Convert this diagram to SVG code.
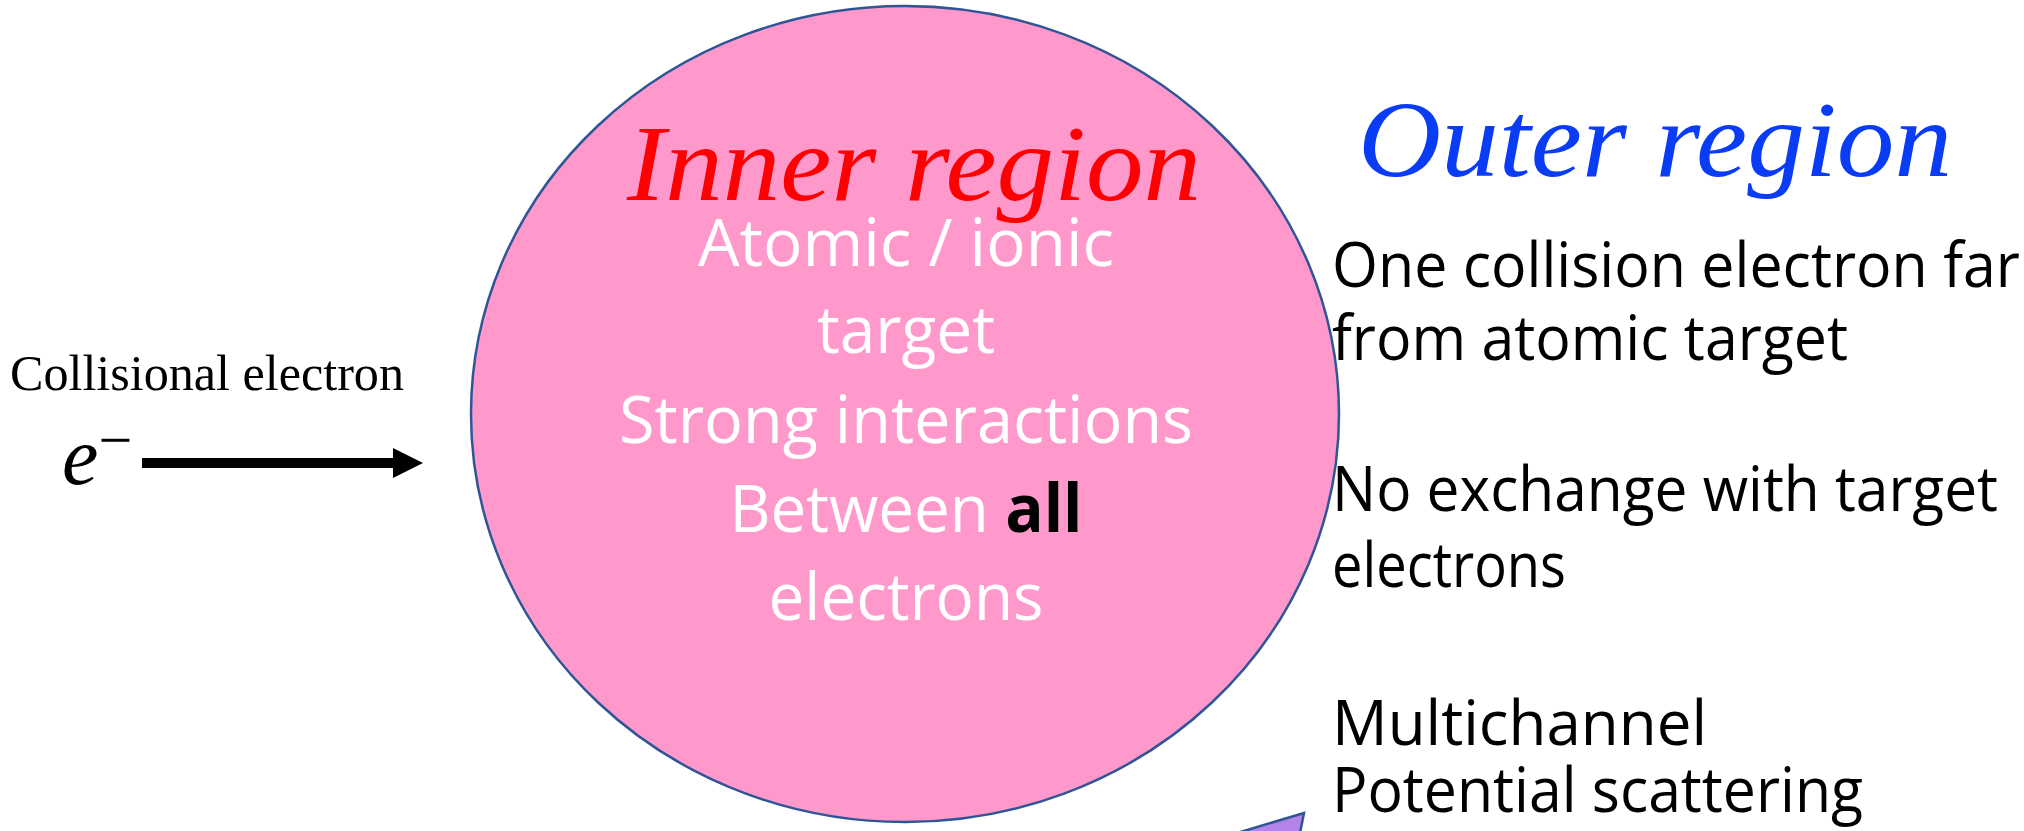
<svg xmlns="http://www.w3.org/2000/svg" width="2024" height="831" viewBox="0 0 2024 831">
<style>
.hand{font-family:"Liberation Serif",serif;font-style:italic;font-size:108px}
.inner{font-family:"Open Sans","Noto Sans",sans-serif;font-size:66px;fill:#ffffff;text-anchor:middle}
.outer{font-family:"Open Sans","Noto Sans",sans-serif;font-size:62px;fill:#000000}
.shape{stroke:#2F5597;stroke-width:2.5}
</style>
<rect width="2024" height="831" fill="#ffffff"/>
<g id="purple-shape">
<polygon class="shape" points="1304,813 1170,853 1296,853" fill="#B383E8"/>
</g>
<g id="inner-region">
<ellipse class="shape" cx="905" cy="414" rx="434" ry="408" fill="#FF99CC"/>
<text class="hand" x="627" y="200" fill="#FF0000" textLength="574" lengthAdjust="spacingAndGlyphs">Inner region</text>
<text class="inner" x="906" y="266" textLength="416" lengthAdjust="spacingAndGlyphs">Atomic / ionic</text>
<text class="inner" x="906" y="353" textLength="178" lengthAdjust="spacingAndGlyphs">target</text>
<text class="inner" x="906" y="443" textLength="574" lengthAdjust="spacingAndGlyphs">Strong interactions</text>
<text class="inner" x="906" y="532" textLength="353" lengthAdjust="spacingAndGlyphs">Between <tspan font-weight="bold" fill="#000000">all</tspan></text>
<text class="inner" x="906" y="620" textLength="275" lengthAdjust="spacingAndGlyphs">electrons</text>
</g>
<g id="outer-region">
<text class="hand" x="1358" y="176" fill="#0A3CF5" textLength="594" lengthAdjust="spacingAndGlyphs">Outer region</text>
<text class="outer" x="1332" y="287" textLength="688" lengthAdjust="spacingAndGlyphs">One collision electron far</text>
<text class="outer" x="1332" y="360" textLength="516" lengthAdjust="spacingAndGlyphs">from atomic target</text>
<text class="outer" x="1332" y="511" textLength="666" lengthAdjust="spacingAndGlyphs">No exchange with target</text>
<text class="outer" x="1332" y="587" textLength="234" lengthAdjust="spacingAndGlyphs">electrons</text>
<text class="outer" x="1332" y="745" textLength="375" lengthAdjust="spacingAndGlyphs">Multichannel</text>
<text class="outer" x="1332" y="812" textLength="531" lengthAdjust="spacingAndGlyphs">Potential scattering</text>
</g>
<g id="electron">
<text x="10" y="390" font-family="Liberation Serif,serif" font-size="50" textLength="394" lengthAdjust="spacingAndGlyphs">Collisional electron</text>
<text x="62" y="484" font-family="Liberation Serif,serif" font-style="italic" font-size="82">e<tspan dy="-24" font-style="normal" font-size="60">−</tspan></text>
</g>
<g id="connectors">
<rect x="142" y="458" width="253" height="10" fill="#000000"/>
<polygon points="393,448 423,463 393,478" fill="#000000"/>
</g>
</svg>
